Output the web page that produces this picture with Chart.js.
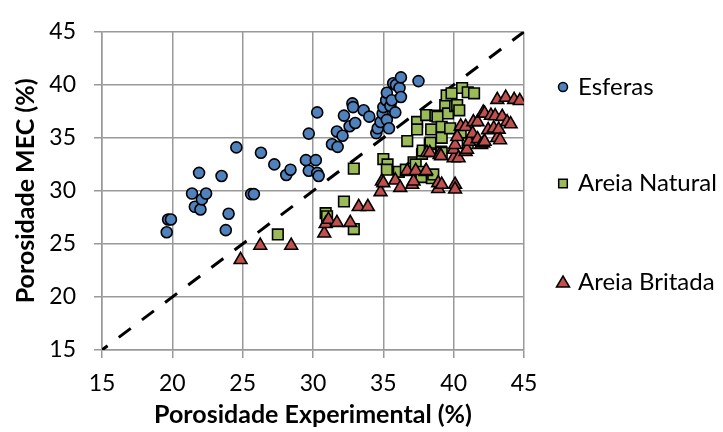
<!DOCTYPE html>
<html>
<head>
<meta charset="utf-8">
<script src="https://cdn.jsdelivr.net/npm/chart.js@4.4.0/dist/chart.umd.min.js"></script>
<style>
  html, body { margin: 0; padding: 0; background: #fff; }
</style>
</head>
<body>
<canvas id="chartMec" width="723" height="432"></canvas>
<script>
// Data (porosidade experimental x porosidade MEC, %)
var esferasExp = [19.6, 19.7, 19.9, 21.4, 21.6, 21.9, 22.0, 22.1, 22.4, 23.5, 23.8, 24.0, 24.55, 25.6, 25.8, 26.3, 27.25, 28.1, 28.4, 29.5,
  29.7, 29.7, 30.2, 30.3, 30.4, 30.3, 31.35, 31.75, 31.7, 32.1, 32.2, 32.6, 32.8, 32.85, 33.0, 33.6, 34.0, 34.5, 34.6, 34.8,
  34.95, 35.0, 35.2, 35.25, 35.25, 35.4, 35.5, 35.6, 35.7, 35.85, 35.9, 36.15, 36.25, 36.25, 37.5];
var esferasMec = [26.1, 27.3, 27.3, 29.75, 28.5, 31.7, 28.25, 29.2, 29.75, 31.4, 26.3, 27.85, 34.1, 29.7, 29.7, 33.6, 32.5, 31.5, 32.0, 32.9,
  31.9, 35.4, 32.9, 31.7, 31.4, 37.4, 34.4, 34.15, 35.6, 35.2, 37.1, 36.1, 38.25, 37.9, 36.4, 37.6, 37.0, 35.45, 35.9, 36.5,
  37.3, 37.9, 38.55, 39.25, 36.7, 35.9, 38.0, 38.55, 40.15, 37.4, 40.0, 39.7, 38.85, 40.7, 40.35];

var naturalExp = [27.5, 30.9, 31.0, 32.2, 32.9, 32.9, 35.0, 35.3, 35.25, 36.1, 36.6, 36.7, 37.15, 37.15, 37.3, 37.4, 37.4, 37.6, 37.7, 37.75,
  37.8, 38.05, 38.3, 38.35, 38.4, 38.45, 38.55, 38.7, 38.85, 39.1, 39.15, 39.15, 39.15, 39.4, 39.5, 39.6, 39.75, 39.85, 40.1, 40.25,
  40.4, 40.5, 40.6, 41.0, 41.0, 41.45];
var naturalMec = [25.9, 27.9, 27.6, 29.0, 26.4, 32.1, 33.0, 32.5, 32.0, 31.8, 32.0, 34.7, 32.7, 32.1, 32.5, 36.5, 35.8, 31.8, 31.3, 33.5,
  33.8, 37.15, 34.4, 34.55, 35.8, 31.2, 31.55, 37.1, 37.0, 33.7, 33.6, 36.05, 35.0, 38.1, 39.0, 37.3, 35.9, 39.2, 38.0, 38.1,
  37.6, 35.5, 39.7, 34.5, 39.3, 39.2];

var britadaExp = [24.85, 26.25, 28.45, 30.8, 30.9, 31.1, 31.7, 32.65, 33.25, 33.9, 34.8, 34.9, 35.0, 35.85, 36.2, 36.7, 36.7, 37.05, 37.15, 37.3,
  38.0, 38.05, 38.1, 38.3, 38.9, 38.9, 39.0, 39.1, 39.15, 40.0, 40.0, 40.1, 40.1, 40.1, 40.25, 40.35, 40.5, 40.85, 40.85, 40.95,
  41.1, 41.35, 41.4, 41.7, 41.7, 41.95, 42.1, 42.1, 42.2, 42.2, 42.45, 42.65, 42.85, 42.95, 43.1, 43.1, 43.2, 43.3, 43.45, 43.7,
  43.8, 44.05, 44.3, 44.7];
var britadaMec = [23.5, 24.85, 24.85, 26.0, 26.9, 27.3, 27.0, 27.0, 28.5, 28.5, 29.9, 30.9, 30.75, 31.0, 30.3, 31.8, 31.9, 30.6, 30.9, 31.9,
  31.8, 31.9, 33.6, 33.6, 30.2, 30.75, 33.4, 33.3, 30.6, 33.1, 33.9, 30.6, 30.15, 34.35, 35.1, 33.1, 36.1, 36.05, 33.7, 33.9,
  34.65, 35.4, 36.5, 34.9, 36.5, 34.35, 34.5, 37.4, 34.65, 37.3, 35.75, 37.1, 35.9, 37.05, 35.0, 38.6, 35.8, 34.8, 37.0, 38.8,
  36.5, 36.3, 38.6, 38.5];

var linhaIgual = [15, 45];
var ticksX = [15, 20, 25, 30, 35, 40, 45];
var ticksY = [15, 20, 25, 30, 35, 40, 45];

var nomes = ['Esferas', 'Areia Natural', 'Areia Britada'];
var cores = ['#4F81BD', '#9BBB59', '#C0504D'];
var formas = ['circle', 'rect', 'triangle'];

function pares(xs, ys) {
  return xs.map(function (x, i) { return { x: x, y: ys[i] }; });
}

var fonte = 'Lato, "Open Sans", sans-serif';
Chart.defaults.font.family = fonte;
Chart.defaults.color = '#000';

// legenda desenhada a mao, no lado direito
var legendaPlugin = {
  id: 'legendaDireita',
  afterDraw: function (chart) {
    var ctx = chart.ctx;
    var linhas = [87, 183.5, 282];
    ctx.save();
    for (var i = 0; i < nomes.length; i++) {
      var cx = 563, cy = linhas[i];
      ctx.fillStyle = cores[i];
      ctx.strokeStyle = '#000';
      ctx.lineWidth = 1.5;
      ctx.beginPath();
      if (formas[i] === 'circle') {
        ctx.arc(cx, cy, 4.5, 0, Math.PI * 2);
      } else if (formas[i] === 'rect') {
        ctx.rect(cx - 4.3, cy - 4.3, 8.6, 8.6);
      } else {
        ctx.moveTo(cx, cy - 6);
        ctx.lineTo(cx + 6.5, cy + 5);
        ctx.lineTo(cx - 6.5, cy + 5);
        ctx.closePath();
      }
      ctx.fill();
      ctx.stroke();
      ctx.fillStyle = '#000';
      ctx.font = '24px ' + fonte;
      ctx.textAlign = 'left';
      ctx.textBaseline = 'middle';
      ctx.fillText(nomes[i], 578, cy);
    }
    ctx.restore();
  }
};

var datasets = [];
var series = [pares(esferasExp, esferasMec), pares(naturalExp, naturalMec), pares(britadaExp, britadaMec)];
var raios = [5.5, 7.5, 7.4];
for (var i = 0; i < series.length; i++) {
  datasets.push({
    label: nomes[i],
    data: series[i],
    backgroundColor: cores[i],
    borderColor: '#000',
    borderWidth: 1.6,
    pointStyle: formas[i],
    pointRadius: raios[i],
    pointHoverRadius: raios[i],
    order: 2 - i
  });
}
datasets.push({
  type: 'line',
  label: '1:1',
  data: pares(linhaIgual, linhaIgual),
  borderColor: '#000',
  borderWidth: 3,
  borderDash: [15, 14],
  borderDashOffset: 8,
  pointRadius: 0,
  fill: false,
  order: 3
});

var ctx = document.getElementById('chartMec').getContext('2d');
var chart = new Chart(ctx, {
  type: 'scatter',
  data: { datasets: datasets },
  options: {
    responsive: false,
    animation: false,
    layout: { padding: { top: 20, right: 199, bottom: 0, left: 0 } },
    plugins: {
      legend: { display: false },
      tooltip: { enabled: false }
    },
    scales: {
      x: {
        type: 'linear',
        min: 15, max: 45,
        afterBuildTicks: function (s) { s.ticks = ticksX.map(function (v) { return { value: v }; }); },
        afterFit: function (s) { s.height = 82; },
        grid: { color: '#999', lineWidth: 1.5, tickLength: 8 },
        border: { color: '#999', width: 1.5 },
        ticks: { font: { size: 23 }, padding: 12, color: '#000' },
        title: {
          display: true,
          text: 'Porosidade Experimental (%)',
          font: { size: 25, weight: 'bold' },
          padding: { top: 0, bottom: 2 },
          color: '#000'
        }
      },
      y: {
        type: 'linear',
        min: 15, max: 45,
        afterBuildTicks: function (s) { s.ticks = ticksY.map(function (v) { return { value: v }; }); },
        afterFit: function (s) { s.width = 102; },
        grid: { color: '#999', lineWidth: 1.5, tickLength: 8 },
        border: { color: '#999', width: 1.5 },
        ticks: { font: { size: 23 }, padding: 18, color: '#000' },
        title: {
          display: true,
          text: 'Porosidade MEC (%)',
          font: { size: 25, weight: 'bold' },
          padding: { top: 11, bottom: 0 },
          color: '#000'
        }
      }
    }
  },
  plugins: [legendaPlugin]
});
</script>
</body>
</html>
